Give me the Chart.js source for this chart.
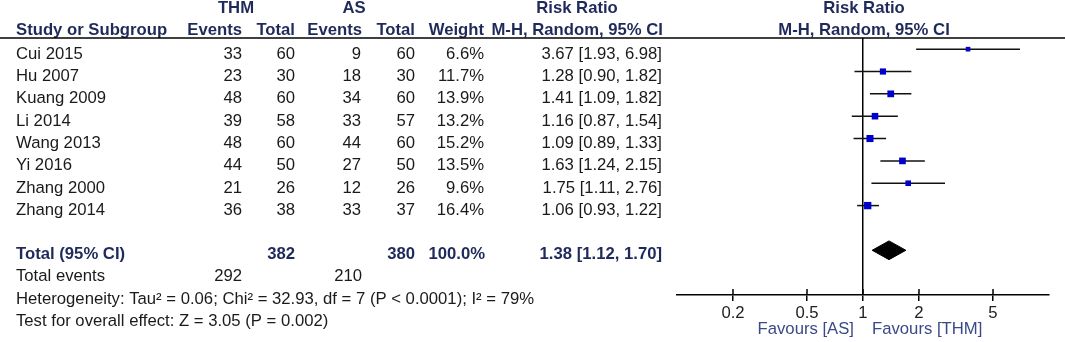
<!DOCTYPE html>
<html>
<head>
<meta charset="utf-8">
<script src="https://cdn.jsdelivr.net/npm/chart.js@4.4.0/dist/chart.umd.min.js"></script>
<style>
  html, body { margin: 0; padding: 0; background: #fff; }
</style>
</head>
<body>
<canvas id="forest" width="1065" height="342"></canvas>
<script>
// study data (risk ratio, random effects)
const studies = ['Cui 2015', 'Hu 2007', 'Kuang 2009', 'Li 2014', 'Wang 2013', 'Yi 2016', 'Zhang 2000', 'Zhang 2014'];
const thmEvents = [33, 23, 48, 39, 48, 44, 21, 36];
const thmTotal = [60, 30, 60, 58, 60, 50, 26, 38];
const asEvents = [9, 18, 34, 33, 44, 27, 12, 33];
const asTotal = [60, 30, 60, 57, 60, 50, 26, 37];
const weights = [6.6, 11.7, 13.9, 13.2, 15.2, 13.5, 9.6, 16.4];
const riskRatio = [3.67, 1.28, 1.41, 1.16, 1.09, 1.63, 1.75, 1.06];
const ciLower = [1.93, 0.90, 1.09, 0.87, 0.89, 1.24, 1.11, 0.93];
const ciUpper = [6.98, 1.82, 1.82, 1.54, 1.33, 2.15, 2.76, 1.22];

// pooled
const pooledTotals = [382, 380];
const pooledEvents = [292, 210];
const pooledRR = [1.38, 1.12, 1.70]; // estimate, lower, upper
const axisTicks = [0.2, 0.5, 1, 2, 5];
const hetText = 'Heterogeneity: Tau\u00b2 = 0.06; Chi\u00b2 = 32.93, df = 7 (P < 0.0001); I\u00b2 = 79%';
const testText = 'Test for overall effect: Z = 3.05 (P = 0.002)';
const favourLabels = ['Favours [AS]', 'Favours [THM]'];

const FONT = '"Liberation Sans", Arial, sans-serif';
const FSIZE = 16.7;
const HEAD = '#1f2a5a';
const INK = '#1a1a1a';
const TOTAL_ROW = 10;

function fmtCI(e, l, u) {
  return e.toFixed(2) + ' [' + l.toFixed(2) + ', ' + u.toFixed(2) + ']';
}

// CI whiskers, one little line each
const ciSets = studies.map((s, i) => ({
  type: 'line',
  data: [{ x: ciLower[i], y: i + 1 }, { x: ciUpper[i], y: i + 1 }],
  borderColor: '#111',
  borderWidth: 1.5,
  pointRadius: 0,
  order: 2
}));

const markers = {
  type: 'scatter',
  data: riskRatio.map((v, i) => ({ x: v, y: i + 1 })),
  pointStyle: 'rect',
  pointRadius: weights.map(w => 1.28 * Math.sqrt(w)),
  backgroundColor: '#0000cc',
  borderColor: '#0000cc',
  borderWidth: 0,
  order: 1
};

const diamond = {
  type: 'line',
  data: [
    { x: pooledRR[1], y: TOTAL_ROW },
    { x: pooledRR[0], y: TOTAL_ROW - 0.42 },
    { x: pooledRR[2], y: TOTAL_ROW },
    { x: pooledRR[0], y: TOTAL_ROW + 0.42 },
    { x: pooledRR[1], y: TOTAL_ROW }
  ],
  borderColor: '#000',
  backgroundColor: '#000',
  borderWidth: 1,
  fill: 'shape',
  pointRadius: 0,
  tension: 0,
  order: 1
};

const tablePlugin = {
  id: 'tablePlugin',
  afterDraw(chart) {
    const ctx = chart.ctx;
    const x = chart.scales.x, y = chart.scales.y;
    const txt = (s, px, py, align, bold, color) => {
      ctx.font = (bold ? 'bold ' : '') + FSIZE + 'px ' + FONT;
      ctx.fillStyle = color || INK;
      ctx.textAlign = align;
      ctx.textBaseline = 'middle';
      ctx.fillText(s, px, py);
    };
    ctx.save();
    // header
    txt('THM', 236, 8, 'center', true, HEAD);
    txt('AS', 354, 8, 'center', true, HEAD);
    txt('Risk Ratio', 577, 8, 'center', true, HEAD);
    txt('Risk Ratio', 864, 8, 'center', true, HEAD);
    txt('Study or Subgroup', 16, 30, 'left', true, HEAD);
    txt('Events', 242, 30, 'right', true, HEAD);
    txt('Total', 295, 30, 'right', true, HEAD);
    txt('Events', 362, 30, 'right', true, HEAD);
    txt('Total', 415, 30, 'right', true, HEAD);
    txt('Weight', 484, 30, 'right', true, HEAD);
    txt('M-H, Random, 95% CI', 663, 30, 'right', true, HEAD);
    txt('M-H, Random, 95% CI', 864, 30, 'center', true, HEAD);

    ctx.strokeStyle = '#000';
    ctx.lineWidth = 1.5;
    ctx.beginPath();
    ctx.moveTo(0, 38);
    ctx.lineTo(1065, 38);
    ctx.stroke();

    // study rows
    studies.forEach((s, i) => {
      const py = y.getPixelForValue(i + 1) + 5;
      txt(s, 16, py, 'left');
      txt(String(thmEvents[i]), 242, py, 'right');
      txt(String(thmTotal[i]), 295, py, 'right');
      txt(String(asEvents[i]), 361, py, 'right');
      txt(String(asTotal[i]), 415, py, 'right');
      txt(weights[i].toFixed(1) + '%', 484, py, 'right');
      txt(fmtCI(riskRatio[i], ciLower[i], ciUpper[i]), 662, py, 'right');
    });

    // totals
    const ty = y.getPixelForValue(TOTAL_ROW) + 4;
    txt('Total (95% CI)', 16, ty, 'left', true, HEAD);
    txt(String(pooledTotals[0]), 295, ty, 'right', true, HEAD);
    txt(String(pooledTotals[1]), 415, ty, 'right', true, HEAD);
    txt('100.0%', 485, ty, 'right', true, HEAD);
    txt(fmtCI(pooledRR[0], pooledRR[1], pooledRR[2]), 662, ty, 'right', true, HEAD);
    txt('Total events', 16, ty + 22, 'left');
    txt(String(pooledEvents[0]), 242, ty + 22, 'right');
    txt(String(pooledEvents[1]), 362, ty + 22, 'right');
    txt(hetText, 16, ty + 45, 'left');
    txt(testText, 16, ty + 67, 'left');

    // upper halves of the axis ticks
    const base = chart.chartArea.bottom;
    ctx.lineWidth = 1.5;
    ctx.beginPath();
    axisTicks.forEach(v => {
      const px = x.getPixelForValue(v);
      ctx.moveTo(px, base - 6);
      ctx.lineTo(px, base);
    });
    ctx.stroke();

    const one = x.getPixelForValue(1);
    txt(favourLabels[0], one - 9, 329, 'right', false, '#3b4a86');
    txt(favourLabels[1], one + 9, 329, 'left', false, '#3b4a86');
    ctx.restore();
  }
};

new Chart(document.getElementById('forest'), {
  data: { datasets: [...ciSets, markers, diamond] },
  options: {
    responsive: false,
    animation: false,
    layout: { padding: { left: 677, right: 16, top: 38, bottom: 17 } },
    plugins: { legend: { display: false }, tooltip: { enabled: false } },
    scales: {
      x: {
        type: 'logarithmic',
        min: 0.1,
        max: 10,
        afterBuildTicks: s => { s.ticks = axisTicks.map(v => ({ value: v })); },
        ticks: {
          autoSkip: false,
          maxRotation: 0,
          padding: 2,
          color: '#222',
          font: { family: FONT, size: FSIZE },
          callback: v => String(v)
        },
        grid: {
          drawOnChartArea: true,
          color: c => (c.tick && c.tick.value === 1) ? '#000' : 'rgba(0,0,0,0)',
          lineWidth: 1.5,
          tickColor: '#000',
          tickLength: 6
        },
        border: { display: true, color: '#000', width: 1.5 }
      },
      y: {
        type: 'linear',
        display: false,
        reverse: true,
        min: 0.5,
        max: 12
      }
    }
  },
  plugins: [tablePlugin]
});
</script>
</body>
</html>
